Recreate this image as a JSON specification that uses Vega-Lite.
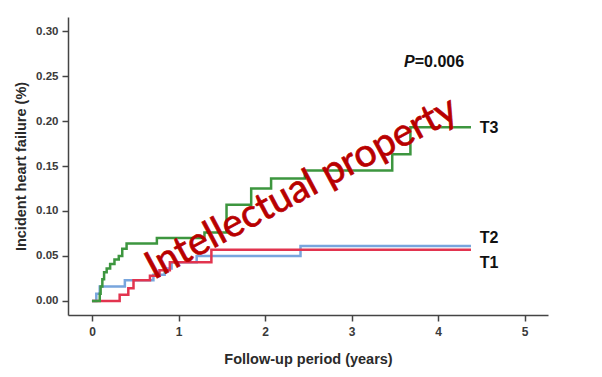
{
  "$schema": "https://vega.github.io/schema/vega-lite/v6.json",
  "width": 480,
  "height": 298,
  "autosize": "none",
  "padding": {"left": 68, "top": 17, "right": 54, "bottom": 62},
  "background": "white",
  "config": {
    "view": {"stroke": null},
    "axis": {"grid": false, "domainColor": "#444", "domainWidth": 1.5, "tickColor": "#444", "tickWidth": 1.5, "tickSize": 6, "labelFont": "Liberation Sans", "labelFontWeight": "bold", "labelFontSize": 11.5, "labelColor": "#3a3a3a", "titleFont": "Liberation Sans", "titleFontWeight": "bold", "titleFontSize": 14.5, "titleColor": "#2a2a2a"}
  },
  "datasets": {
    "curves": [
      {"series": "T2", "t": 0.0, "y": 0.0},
      {"series": "T2", "t": 0.05, "y": 0.008},
      {"series": "T2", "t": 0.09, "y": 0.016},
      {"series": "T2", "t": 0.38, "y": 0.023},
      {"series": "T2", "t": 0.71, "y": 0.029},
      {"series": "T2", "t": 0.84, "y": 0.036},
      {"series": "T2", "t": 0.92, "y": 0.043},
      {"series": "T2", "t": 1.21, "y": 0.05},
      {"series": "T2", "t": 2.41, "y": 0.061},
      {"series": "T2", "t": 4.38, "y": 0.061},
      {"series": "T1", "t": 0.0, "y": 0.0},
      {"series": "T1", "t": 0.32, "y": 0.007},
      {"series": "T1", "t": 0.42, "y": 0.014},
      {"series": "T1", "t": 0.48, "y": 0.023},
      {"series": "T1", "t": 0.67, "y": 0.028},
      {"series": "T1", "t": 0.78, "y": 0.034},
      {"series": "T1", "t": 0.9, "y": 0.043},
      {"series": "T1", "t": 1.38, "y": 0.057},
      {"series": "T1", "t": 4.38, "y": 0.057},
      {"series": "T3", "t": 0.0, "y": 0.0},
      {"series": "T3", "t": 0.09, "y": 0.008},
      {"series": "T3", "t": 0.1, "y": 0.016},
      {"series": "T3", "t": 0.12, "y": 0.024},
      {"series": "T3", "t": 0.14, "y": 0.032},
      {"series": "T3", "t": 0.17, "y": 0.036},
      {"series": "T3", "t": 0.21, "y": 0.041},
      {"series": "T3", "t": 0.26, "y": 0.046},
      {"series": "T3", "t": 0.31, "y": 0.05},
      {"series": "T3", "t": 0.35, "y": 0.058},
      {"series": "T3", "t": 0.4, "y": 0.064},
      {"series": "T3", "t": 0.75, "y": 0.07},
      {"series": "T3", "t": 1.3, "y": 0.076},
      {"series": "T3", "t": 1.555, "y": 0.107},
      {"series": "T3", "t": 1.84, "y": 0.125},
      {"series": "T3", "t": 2.07, "y": 0.136},
      {"series": "T3", "t": 2.46, "y": 0.145},
      {"series": "T3", "t": 3.47, "y": 0.163},
      {"series": "T3", "t": 3.68, "y": 0.193},
      {"series": "T3", "t": 4.38, "y": 0.193}
    ],
    "labels": [
      {"t": 4.48, "y": 0.192, "label": "T3"},
      {"t": 4.48, "y": 0.07, "label": "T2"},
      {"t": 4.48, "y": 0.042, "label": "T1"}
    ]
  },
  "layer": [
    {
      "data": {"name": "curves"},
      "transform": [{"filter": "datum.series === 'T2'"}],
      "mark": {"type": "line", "interpolate": "step-after", "strokeWidth": 2.5, "color": "#78a5dd"},
      "encoding": {
        "x": {"field": "t", "type": "quantitative", "scale": {"domain": [-0.277, 5.27], "nice": false, "zero": false}, "axis": {"values": [0, 1, 2, 3, 4, 5], "format": "d", "title": "Follow-up period (years)", "labelPadding": 5, "labelFontSize": 12, "titlePadding": 15}},
        "y": {"field": "y", "type": "quantitative", "scale": {"domain": [-0.0156, 0.3156], "nice": false, "zero": false}, "axis": {"values": [0, 0.05, 0.1, 0.15, 0.2, 0.25, 0.3], "format": ".2f", "title": "Incident heart failure (%)", "labelPadding": 4, "titlePadding": 7}}
      }
    },
    {
      "data": {"name": "curves"},
      "transform": [{"filter": "datum.series === 'T1'"}],
      "mark": {"type": "line", "interpolate": "step-after", "strokeWidth": 2.5, "color": "#e2344f"},
      "encoding": {
        "x": {"field": "t", "type": "quantitative"},
        "y": {"field": "y", "type": "quantitative"}
      }
    },
    {
      "data": {"name": "curves"},
      "transform": [{"filter": "datum.series === 'T3'"}],
      "mark": {"type": "line", "interpolate": "step-after", "strokeWidth": 2.5, "color": "#3d963f"},
      "encoding": {
        "x": {"field": "t", "type": "quantitative"},
        "y": {"field": "y", "type": "quantitative"}
      }
    },
    {
      "data": {"name": "labels"},
      "mark": {"type": "text", "align": "left", "baseline": "middle", "font": "Liberation Sans", "fontWeight": "bold", "fontSize": 16, "color": "#111"},
      "encoding": {
        "x": {"field": "t", "type": "quantitative"},
        "y": {"field": "y", "type": "quantitative"},
        "text": {"field": "label"}
      }
    },
    {
      "data": {"values": [{"t": 3.73, "y": 0.2656, "p": "P", "v": "=0.006"}]},
      "layer": [
        {
          "mark": {"type": "text", "align": "right", "baseline": "middle", "font": "Liberation Sans", "fontWeight": "bold", "fontStyle": "italic", "fontSize": 16, "color": "#111"},
          "encoding": {"x": {"field": "t", "type": "quantitative"}, "y": {"field": "y", "type": "quantitative"}, "text": {"field": "p"}}
        },
        {
          "mark": {"type": "text", "align": "left", "baseline": "middle", "font": "Liberation Sans", "fontWeight": "bold", "fontSize": 16, "color": "#111"},
          "encoding": {"x": {"field": "t", "type": "quantitative"}, "y": {"field": "y", "type": "quantitative"}, "text": {"field": "v"}}
        }
      ]
    },
    {
      "data": {"values": [{"t": 2.42, "y": 0.1256, "label": "Intellectual property"}]},
      "mark": {"type": "text", "align": "center", "baseline": "middle", "angle": 332, "font": "Lato", "fontSize": 39, "color": "#b80000", "stroke": "#b80000", "strokeWidth": 0.7},
      "encoding": {"x": {"field": "t", "type": "quantitative"}, "y": {"field": "y", "type": "quantitative"}, "text": {"field": "label"}}
    }
  ]
}
